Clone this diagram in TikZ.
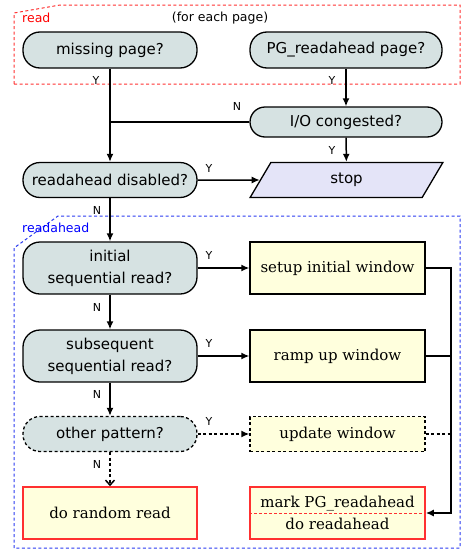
\documentclass[tikz,border=0pt]{standalone}
\usepackage{fontspec}
\setmainfont{DejaVu Serif}
\setsansfont{DejaVu Sans}
\usetikzlibrary{arrows.meta,shapes.geometric}
\definecolor{decfill}{HTML}{D6E2E2}
\definecolor{actfill}{HTML}{FFFFDD}
\definecolor{stopfill}{HTML}{E4E4F8}
\definecolor{boxblue}{HTML}{2A3AF0}
\definecolor{boxred}{HTML}{FF3030}
\begin{document}
\begin{tikzpicture}[x=1pt,y=-1pt,
  dec/.style={draw, line width=1.3pt, fill=decfill, rounded corners=17pt, minimum width=174pt,
    font=\sffamily\fontsize{15}{22}\selectfont, align=center, inner sep=0pt},
  act/.style={draw, line width=1.3pt, fill=actfill, minimum width=175pt, minimum height=52pt,
    font=\rmfamily\fontsize{15}{22}\selectfont, align=center, inner sep=0pt},
  lbl/.style={font=\sffamily\fontsize{11}{13}\selectfont, inner sep=0pt},
  conn/.style={line width=1.5pt},
  arr/.style={conn, -{Latex[length=8pt,width=7pt]}},
  dsh/.style={dash pattern=on 3pt off 2.5pt}]
\useasboundingbox (0,0) rectangle (463,549);
% group boxes
\draw[boxred, line width=1pt, dash pattern=on 3pt off 2.5pt]
  (14,84) -- (14,13) -- (60,5) -- (460,5) -- (460,84) -- cycle;
\draw[boxblue, line width=1pt, dash pattern=on 3pt off 2.5pt]
  (14,548) -- (14,248) -- (58,216) -- (460,216) -- (460,548) -- cycle;
\node[font=\sffamily\fontsize{12.5}{14}\selectfont, text=red, anchor=west, inner sep=0pt] (readlbl) at (22,18) {read};
\node[font=\sffamily\fontsize{12.5}{14}\selectfont, inner sep=0pt] (foreach) at (220,18) {(for each page)};
\node[font=\sffamily\fontsize{12.5}{14}\selectfont, text=blue, anchor=west, inner sep=0pt] (ralbl) at (22,228) {readahead};
% nodes
\node[dec, minimum height=36pt] (miss) at (110,50) {missing page?};
\node[dec, minimum width=192pt, minimum height=36pt] (pg) at (346,50) {PG\_readahead page?};
\node[dec, minimum width=192pt, minimum height=30pt, rounded corners=15pt] (io) at (346,122) {I/O congested?};
\node[dec, minimum height=35pt] (rd) at (110,180) {readahead disabled?};
\node[trapezium, trapezium left angle=72, trapezium right angle=108, trapezium stretches=true,
  draw, line width=1.3pt, fill=stopfill, minimum width=193pt, minimum height=35pt, inner sep=0pt,
  font=\sffamily\fontsize{15}{22}\selectfont] (stop) at (346.5,180) {stop};
\node[dec, minimum height=52pt] (init) at (110,268) {initial\\sequential read?};
\node[act] (setup) at (337.5,268) {setup initial window};
\node[dec, minimum height=52pt] (subs) at (110,356) {subsequent\\sequential read?};
\node[act] (ramp) at (337.5,356) {ramp up window};
\node[dec, dsh, minimum height=35pt] (other) at (110,434) {other pattern?};
\node[act, dsh, minimum height=35pt] (upd) at (337.5,434) {update window};
\node[act, draw=boxred, line width=1.6pt, minimum width=174pt] (rand) at (110,513) {do random read};
\node[act, draw=boxred, line width=1.6pt] (mark) at (337.5,513) {mark PG\_readahead\\do readahead};
\draw[boxred, dash pattern=on 3pt off 2pt, line width=0.8pt] (mark.west) -- (mark.east);
% connectors
\coordinate (rx) at (451,300);
\draw[arr] (pg) -- (io);
\draw[arr] (miss) -- (rd);
\draw[conn] (io.west) -- (io.west -| miss.south);
\draw[arr] (io) -- (stop);
\draw[arr] (rd) -- (stop);
\draw[arr] (rd) -- (init);
\draw[arr] (init) -- (setup);
\draw[arr] (init) -- (subs);
\draw[arr] (subs) -- (ramp);
\draw[arr] (subs) -- (other);
\draw[arr, dsh] (other) -- (upd);
\draw[conn, dsh, -{Straight Barb[length=5pt,width=9pt]}] (other) -- (rand);
\draw[arr] (setup.east) -- (setup.east -| rx) -- (mark.east -| rx) -- (mark.east);
\draw[conn] (ramp.east) -- (ramp.east -| rx);
\draw[conn, dsh] (upd.east) -- (upd.east -| rx);
% labels
\node[lbl] (l1) at (96,80) {Y};
\node[lbl] (l2) at (332,80) {Y};
\node[lbl] (l3) at (237,106) {N};
\node[lbl] (l4) at (332,150) {Y};
\node[lbl] (l5) at (209,168) {Y};
\node[lbl] (l6) at (97,210) {N};
\node[lbl] (l7) at (209,255) {Y};
\node[lbl] (l8) at (97,307) {N};
\node[lbl] (l9) at (209,343) {Y};
\node[lbl] (l10) at (97,394) {N};
\node[lbl] (l11) at (209,421) {Y};
\node[lbl] (l12) at (97,464) {N};
\end{tikzpicture}
\end{document}
